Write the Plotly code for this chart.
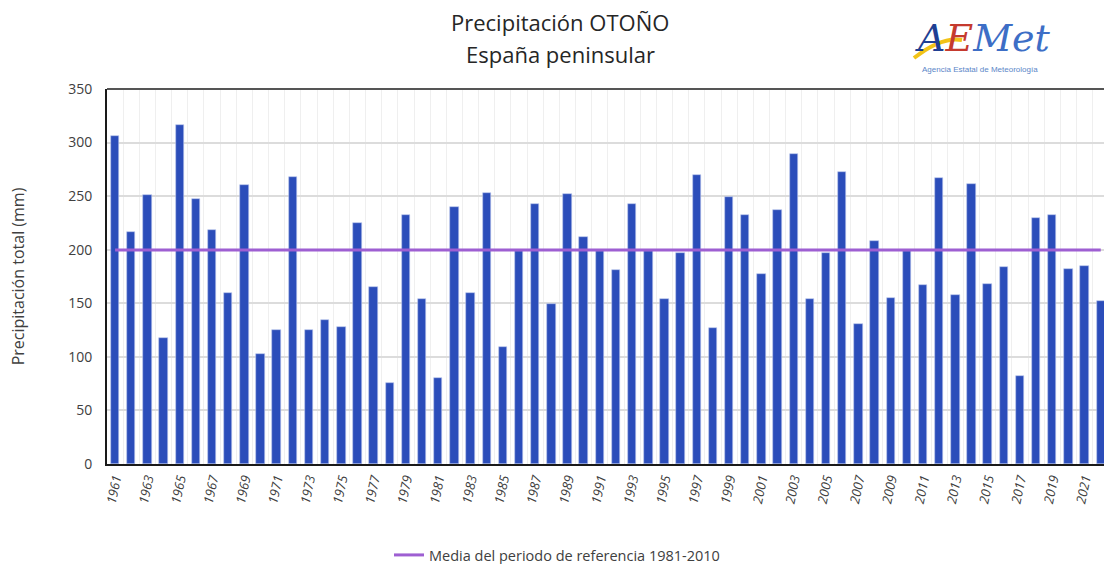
import plotly.graph_objects as go

# ---------------- data ----------------
years = list(range(1961, 2023))
precip = [306, 217, 251, 118, 316, 247, 218, 160, 260, 103,
          125, 268, 125, 134, 128, 225, 165, 76, 232, 154,
          80, 240, 160, 253, 109, 199, 243, 149, 252, 212,
          199, 181, 243, 199, 154, 197, 270, 127, 249, 232,
          177, 237, 289, 154, 197, 273, 131, 208, 155, 199,
          167, 267, 158, 261, 168, 184, 82, 230, 232, 182,
          185, 152]
mean_ref = 199.7
mean_series = [mean_ref] * len(years)
tick_years = list(range(1961, 2023, 2))
tick_text = ["<i>%d</i>" % y for y in tick_years]

title1 = "Precipitación OTOÑO"
title2 = "España peninsular"
ytitle = "Precipitación total (mm)"
legend_name = "Media del periodo de referencia 1981-2010"

FONT = "Open Sans"
W, H = 1104, 564
L, T, B, R = 107, 89, 100, 0
plot_w = W - L - R
plot_h = H - T - B

def px(x):
    return (x - L) / plot_w

def py(y):
    return (H - B - y) / plot_h

fig = go.Figure()
fig.add_trace(go.Bar(
    x=years, y=precip, width=0.52,
    marker=dict(color="#2B4DBA", line=dict(color="#B8C4EC", width=0.6)),
    showlegend=False, hoverinfo="x+y"))
fig.add_trace(go.Scatter(
    x=years, y=mean_series, mode="lines", name=legend_name,
    line=dict(color="#9E5FD2", width=3)))

fig.update_layout(
    width=W, height=H,
    margin=dict(l=L, r=R, t=T, b=B, pad=0, autoexpand=False),
    paper_bgcolor="white", plot_bgcolor="white",
    font=dict(family=FONT, color="#404040"),
    bargap=0,
    showlegend=True,
    legend=dict(orientation="h", x=px(557), y=py(555), xanchor="center", yanchor="middle",
                font=dict(size=14.5, color="#404040"), bgcolor="rgba(0,0,0,0)",
                tracegroupgap=0, itemwidth=30),
)
fig.update_xaxes(
    automargin=False,
    range=[1960.5, 2022.2],
    tickmode="array", tickvals=tick_years, ticktext=tick_text,
    tickangle=-78, tickfont=dict(size=13, color="#404040"),
    showgrid=False, zeroline=False,
    showline=True, linecolor="#1a1a1a", linewidth=2,
    ticks="", ticklen=0,
    minor=dict(tickmode="linear", tick0=1960.5, dtick=1, showgrid=True,
               gridcolor="#EFEFEF", gridwidth=1, ticks=""),
)
fig.update_yaxes(
    automargin=False,
    range=[0, 350], dtick=50, tick0=0,
    tickfont=dict(size=14, color="#404040"),
    showgrid=True, gridcolor="#DCDCDC", gridwidth=2,
    zeroline=False, showline=True, linecolor="#1a1a1a", linewidth=2,
    ticks="", ticklabelstandoff=10,
    title=dict(text=ytitle, font=dict(size=16, color="#404040"), standoff=40),
)

# top border of plot area
fig.add_shape(type="line", xref="paper", yref="paper", x0=0, x1=1, y0=1, y1=1,
              line=dict(color="#555555", width=2))

# titles
fig.add_annotation(text=title1, xref="paper", yref="paper", x=px(560), y=py(22),
                   showarrow=False, font=dict(size=22, color="#262626"),
                   xanchor="center", yanchor="middle")
fig.add_annotation(text=title2, xref="paper", yref="paper", x=px(560), y=py(54),
                   showarrow=False, font=dict(size=22, color="#262626"),
                   xanchor="center", yanchor="middle")

# AEMET logo (text-based approximation)
fig.add_shape(type="path", xref="paper", yref="paper",
              path="M %f,%f Q %f,%f %f,%f" % (px(914), py(58), px(942), py(36), px(962), py(40)),
              line=dict(color="#F2C318", width=4))
fig.add_annotation(
    text="<i><span style='color:#1F3F93'>A</span><span style='color:#C53A2E'>E</span>"
         "<span style='color:#3D6EC6'>Met</span></i>",
    xref="paper", yref="paper", x=px(983), y=py(38), showarrow=False,
    font=dict(size=38, family="DejaVu Serif"), xanchor="center", yanchor="middle")
fig.add_annotation(text="Agencia Estatal de Meteorología", xref="paper", yref="paper",
                   x=px(980), y=py(69), showarrow=False,
                   font=dict(size=8, color="#5A86C8", family="Liberation Sans"),
                   xanchor="center", yanchor="middle")

fig.write_html(
    "out.html",
    config={"displayModeBar": False},
    post_script="document.body.style.margin='0';document.body.style.overflow='hidden';",
)
